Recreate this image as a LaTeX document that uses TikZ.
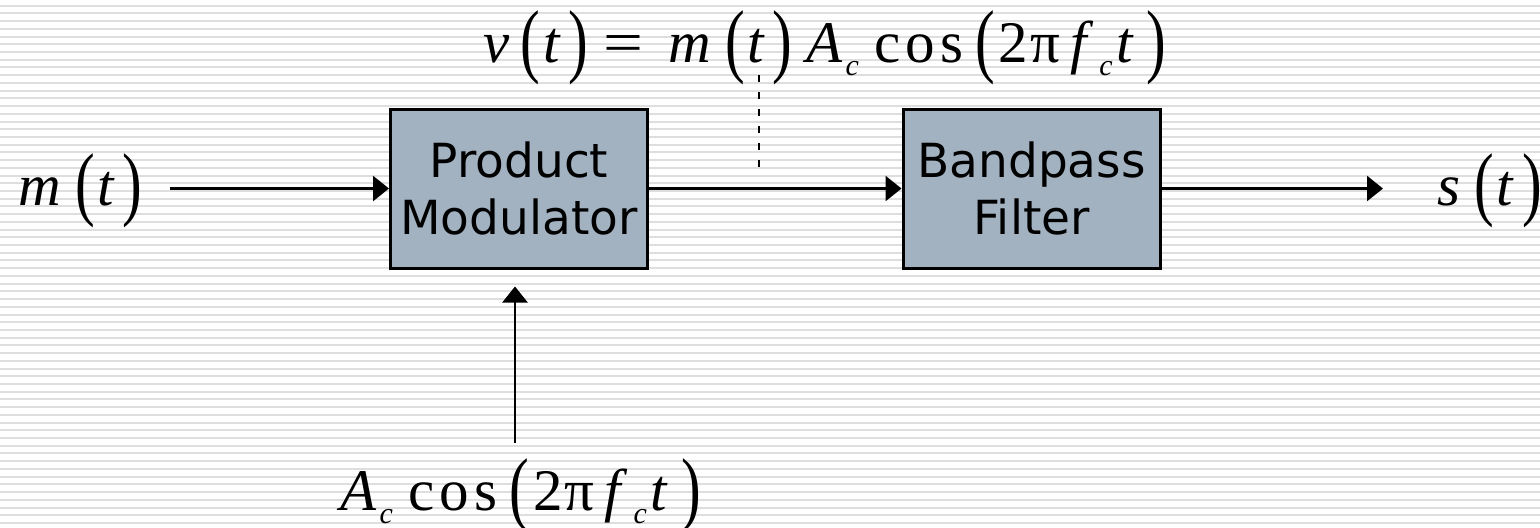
\documentclass[tikz,border=0pt]{standalone}
\usepackage{fontspec}
\setmainfont{Liberation Serif}
\newfontfamily\blockfont{DejaVu Sans}
\usetikzlibrary{arrows.meta}

\definecolor{blockfill}{RGB}{163,178,193}
\definecolor{stripegray}{RGB}{222,222,222}

% tall parentheses and a lowered index for the formulas
\newcommand\lpar{\raisebox{-0.093em}{\scalebox{1}[1.39]{(}}}
\newcommand\rpar{\raisebox{-0.093em}{\scalebox{1}[1.39]{)}}}
\newcommand\lowidx[1]{\raisebox{-6.5pt}{\fontsize{15}{15}\selectfont\itshape #1}}
\newcommand\sigof[1]{\textit{#1}\kern7pt\lpar\kern1.2pt\textit{t}\kern4pt\rpar}
\newcommand\carrier{\textit{A}\kern1.5pt\lowidx{c}\kern7.9pt c\kern2.5pt o\kern2.5pt s\kern6pt\lpar\kern2pt 2\kern1pt π\kern5pt\textit{f}\kern3pt\lowidx{c}\kern2pt\textit{t}\kern6.3pt\rpar}

\tikzset{
  block/.style={draw=black, line width=1.5pt, fill=blockfill, minimum width=128.5pt,
    minimum height=79.5pt, align=center, inner sep=0pt,
    font=\blockfont\fontsize{23.5}{28.5}\selectfont},
  sigtext/.style={inner sep=0pt, font=\fontsize{29.5}{30}\selectfont},
  sig/.style={line width=1.25pt, -{Triangle[length=8pt,width=12.5pt]}},
  tapline/.style={line width=1.2pt, dash pattern=on 3.5pt off 5pt},
  stripe/.style={draw=stripegray, line width=1pt}
}

\begin{document}
\begin{tikzpicture}[x=0.5pt, y=-0.5pt]
    \useasboundingbox (0,0) rectangle (1540,527);
    \fill[white] (0,0) rectangle (1540,527);
    \foreach \i in {0,...,67} {
        \pgfmathsetmacro\sy{5.7+7.72*\i}
        \draw[stripe] (0,\sy) -- (1540,\sy);
    }

    % the two blocks
    \node[block] (pm) at (519,188.5) {Product\\Modulator};
    \node[block] (bp) at (1031.5,188.5) {Bandpass\\Filter};

    % signals
    \node[sigtext, anchor=base west] (mt) at (18,205) {\sigof{m}};
    \node[sigtext, anchor=base west] (st) at (1437,205) {\sigof{s}};
    \node[sigtext, anchor=base west] (ac) at (340,510) {\carrier};
    \node[sigtext, anchor=base west] (vt) at (483,62)
        {\textit{v}\kern5.5pt\lpar\kern1.5pt\textit{t}\kern3.8pt\rpar\kern7.7pt\scalebox{1.2}[1]{=}\kern12.5pt\sigof{m}\kern7pt\carrier};

    \coordinate (lo) at (515,443);
    \coordinate (tapTop) at (759,75);
    \coordinate (tapBot) at (759,172);

    \draw[sig, shorten <=13.5pt] (pm.west -| mt.east) -- (pm.west);
    \draw[sig] (pm.east) -- (bp.west);
    \draw[sig, shorten >=27pt] (bp.east) -- (bp.east -| st.west);
    \draw[sig, shorten >=8.5pt] (lo) -- (lo |- pm.south);
    \draw[tapline] (tapTop) -- (tapBot);
\end{tikzpicture}
\end{document}
